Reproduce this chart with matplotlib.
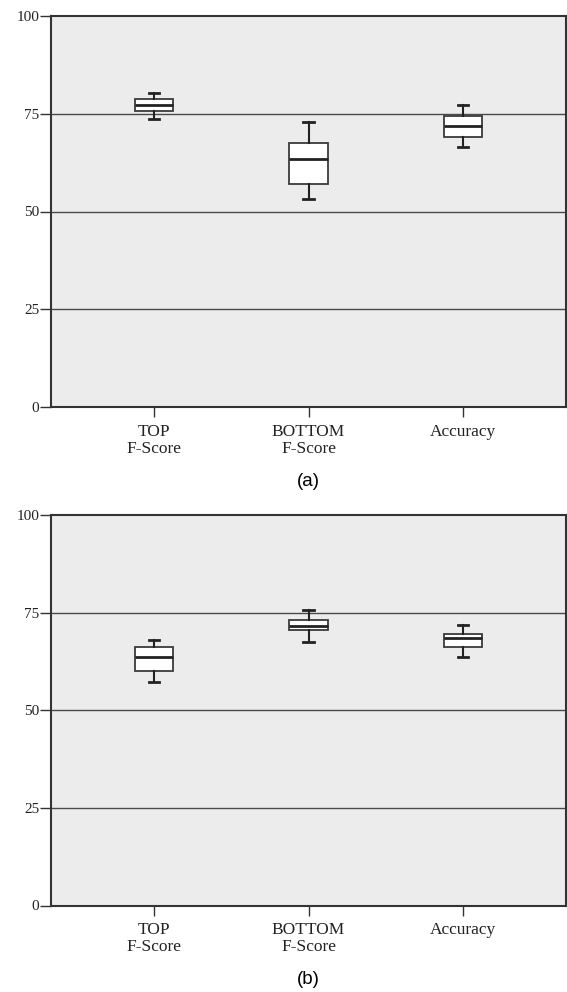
import matplotlib
matplotlib.use("Agg")
import matplotlib.pyplot as plt

# categories on the x axis
labels = ["TOP\nF-Score", "BOTTOM\nF-Score", "Accuracy"]

# five-number summaries per panel: lower whisker, Q1, median, Q3, upper whisker
a_whislo = [73.6, 53.2, 66.6]
a_q1 = [75.8, 57.1, 69.0]
a_med = [77.2, 63.4, 71.9]
a_q3 = [78.9, 67.4, 74.3]
a_whishi = [80.4, 73.0, 77.3]

b_whislo = [57.3, 67.5, 63.6]
b_q1 = [60.0, 70.5, 66.1]
b_med = [63.7, 71.5, 68.5]
b_q3 = [66.1, 73.1, 69.5]
b_whishi = [67.9, 75.6, 71.8]

yticks = [0, 25, 50, 75, 100]
panel_tags = ["(a)", "(b)"]

SERIF = "Liberation Serif"
SANS = "Liberation Sans"


def make_stats(lo, q1, med, q3, hi):
    return [dict(whislo=l, q1=a, med=m, q3=b, whishi=h, fliers=[])
            for l, a, m, b, h in zip(lo, q1, med, q3, hi)]


def draw_panel(ax, stats, tag):
    ax.set_facecolor("#ececec")
    for y in yticks[1:-1]:
        ax.axhline(y, color="#4a4a4a", lw=1.0, zorder=1)
    ax.bxp(stats, positions=[1, 2, 3], widths=0.25, patch_artist=True,
           showfliers=False,
           boxprops=dict(facecolor="white", edgecolor="#3a3a3a", lw=1.3),
           medianprops=dict(color="#222222", lw=2.0),
           whiskerprops=dict(color="#222222", lw=1.5),
           capprops=dict(color="#222222", lw=2.0),
           capwidths=0.065, zorder=3)
    ax.set_xlim(0.333, 3.667)
    ax.set_ylim(0, 100)
    ax.set_yticks(yticks)
    ax.set_yticklabels([str(v) for v in yticks], fontfamily=SERIF, fontsize=11)
    ax.set_xticks([1, 2, 3])
    ax.set_xticklabels(labels, fontfamily=SERIF, fontsize=12.5, linespacing=1.1)
    ax.tick_params(axis="y", length=8, width=1, pad=0.5, colors="#333333",
                   labelcolor="#222222")
    ax.tick_params(axis="x", length=7, width=1, pad=5, colors="#333333",
                   labelcolor="#222222")
    for side in ["left", "bottom", "top", "right"]:
        ax.spines[side].set_color("#333333")
        ax.spines[side].set_linewidth(1.5)
    ax.text(0.5, -0.19, tag, transform=ax.transAxes, ha="center", va="center",
            fontfamily=SANS, fontsize=13.5)


fig = plt.figure(figsize=(5.67, 9.92), dpi=100)
W, H = 567.0, 992.0
ax_a = fig.add_axes([51 / W, 1 - 407 / H, 515 / W, 391 / H])
ax_b = fig.add_axes([51 / W, 1 - 905.5 / H, 515 / W, 390.5 / H])

draw_panel(ax_a, make_stats(a_whislo, a_q1, a_med, a_q3, a_whishi), panel_tags[0])
draw_panel(ax_b, make_stats(b_whislo, b_q1, b_med, b_q3, b_whishi), panel_tags[1])

fig.savefig("out.png", dpi=100, facecolor="white")
